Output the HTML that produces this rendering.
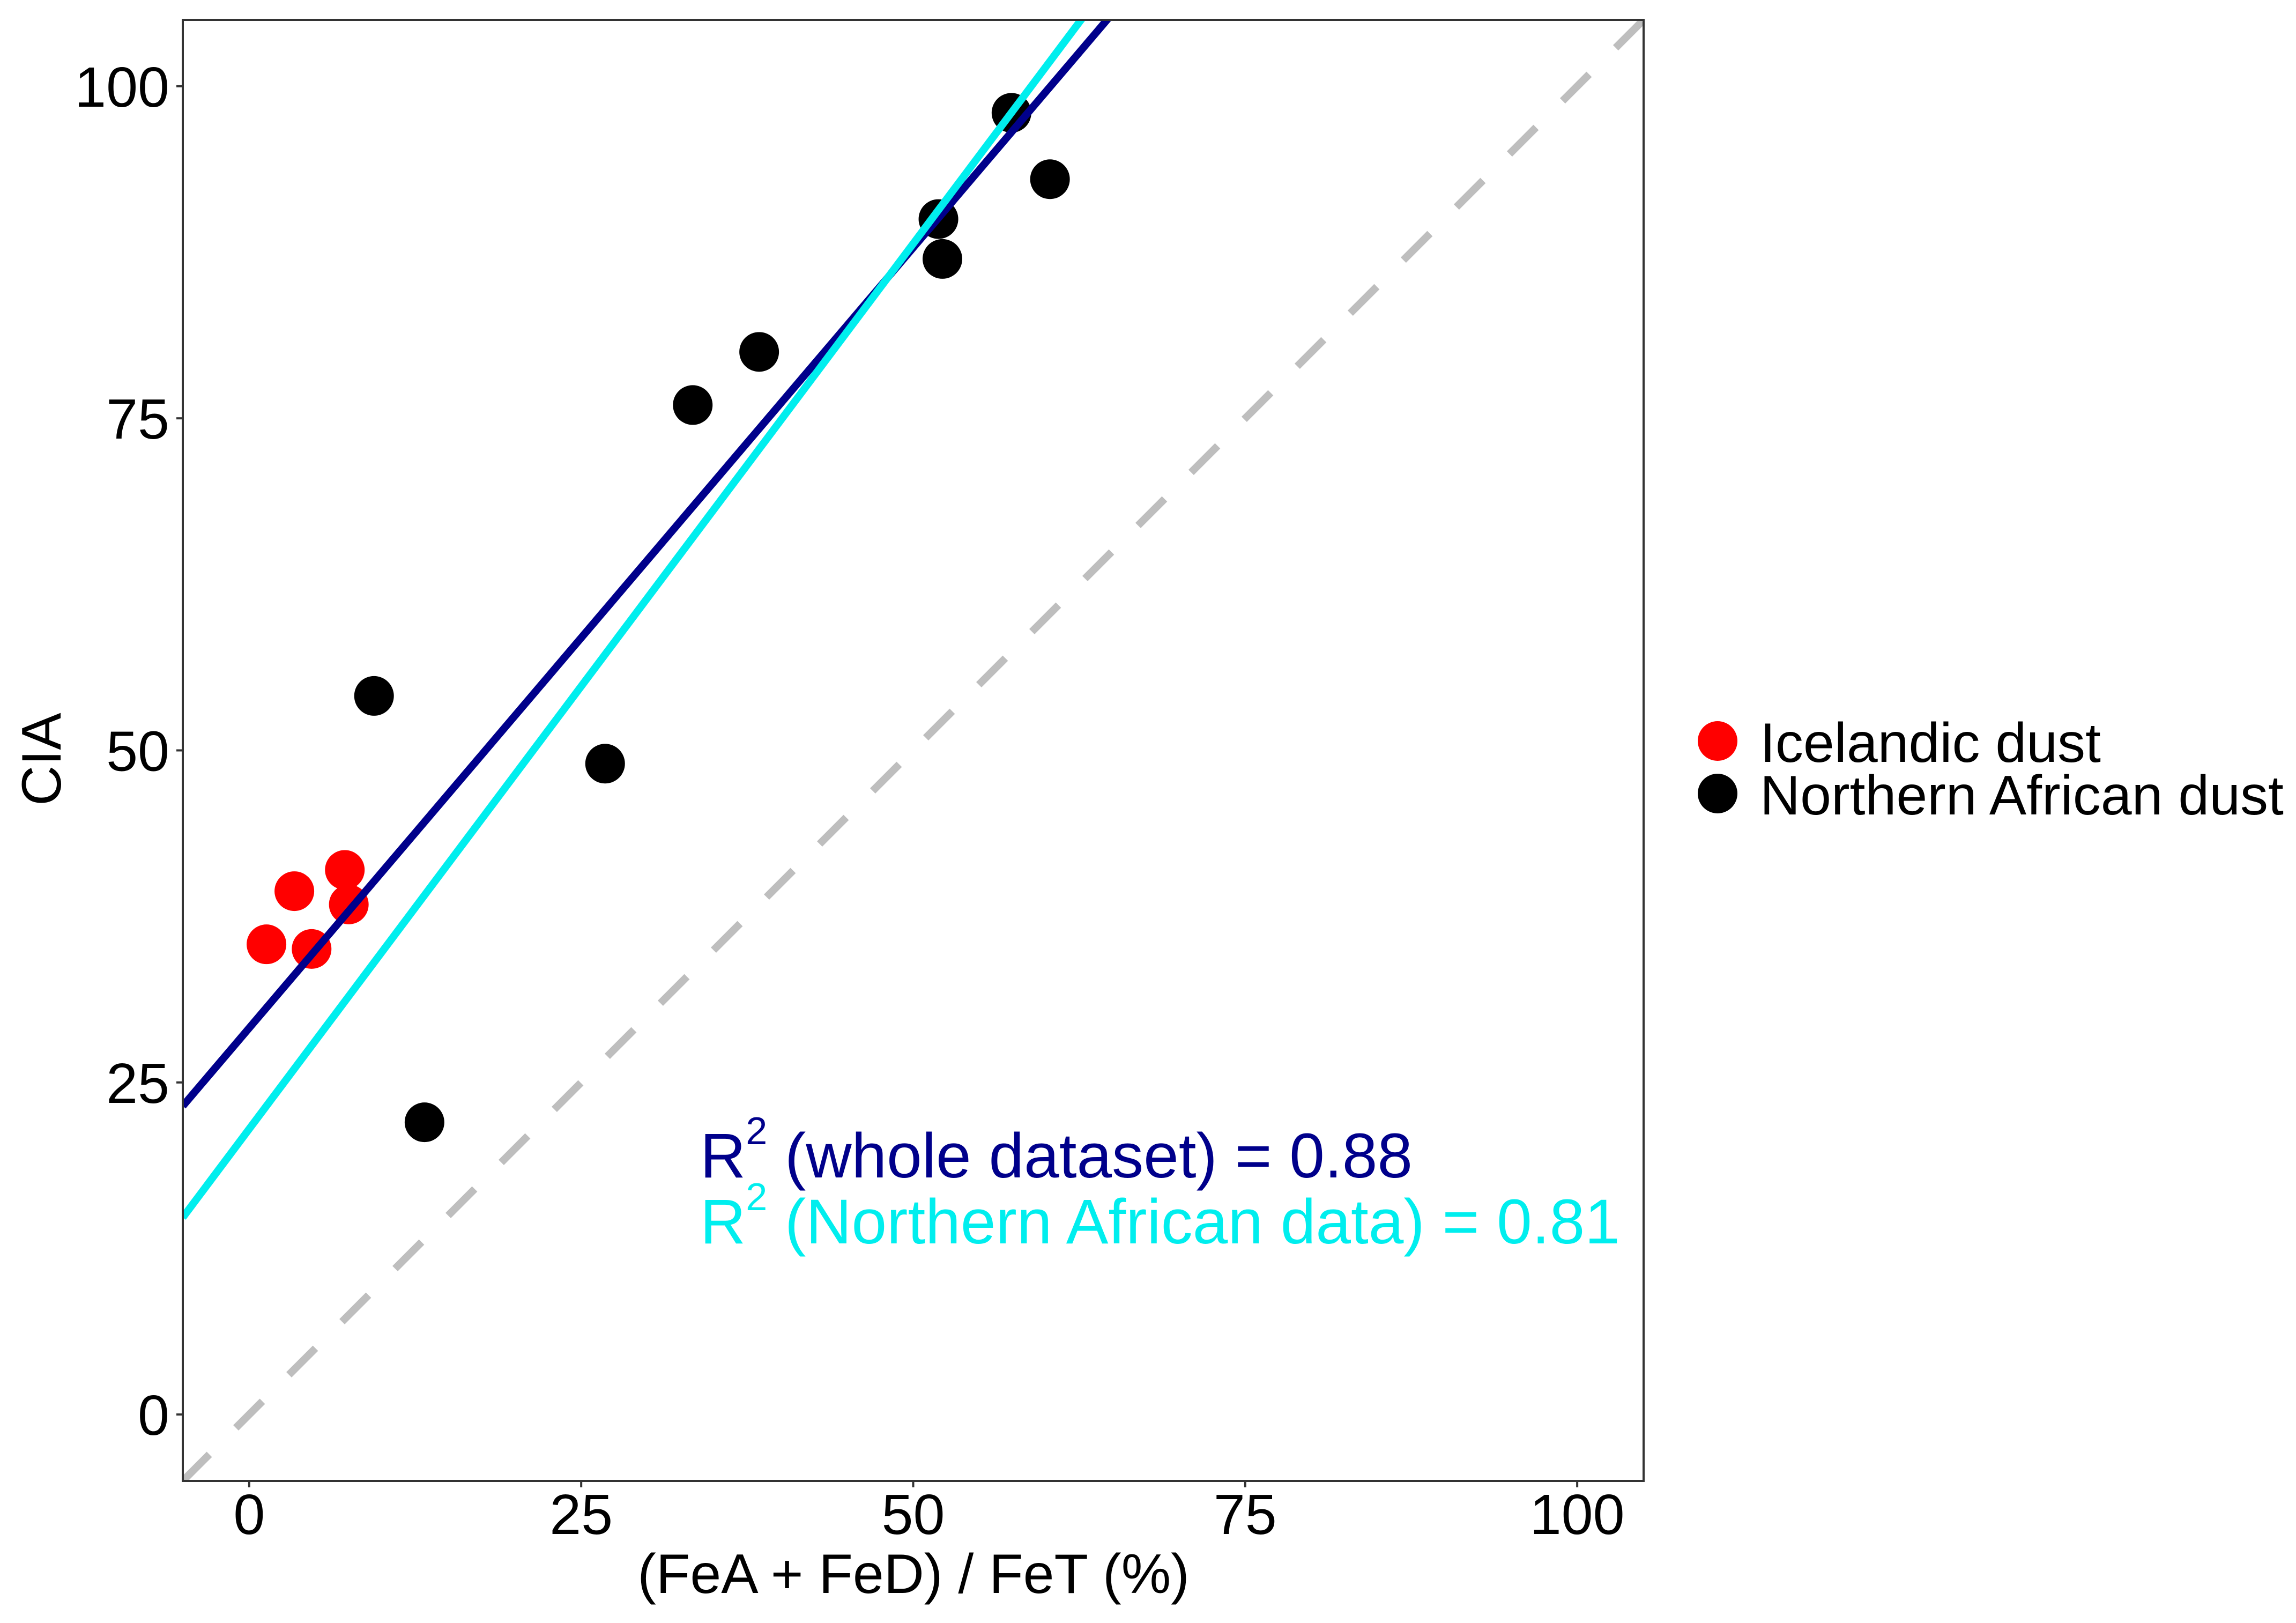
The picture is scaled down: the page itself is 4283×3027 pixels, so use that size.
<!DOCTYPE html>
<html><head><meta charset="utf-8"><style>
html,body{margin:0;padding:0;background:#fff;}
svg{display:block;font-family:"Liberation Sans",Arial,sans-serif;}
</style></head><body>
<svg id="chart" width="4283" height="3027" viewBox="0 0 4283 3027" xmlns="http://www.w3.org/2000/svg">
<rect x="0" y="0" width="4283" height="3027" fill="#fff"/>
<g id="plot"></g>
</svg>
<script>
const icelandicX = [1.3, 3.4, 4.7, 7.2, 7.5];
const icelandicY = [35.4, 39.4, 35.05, 41.0, 38.4];
const africanX = [9.4, 13.2, 26.8, 33.4, 38.4, 51.9, 52.2, 57.4, 60.3];
const africanY = [54.1, 22.0, 49.0, 76.0, 80.0, 90.0, 87.0, 98.0, 93.0];
const wholeFit = [29.1, 1.175];      // intercept, slope
const africanFit = [21.5, 1.333];    // intercept, slope
const xTicks = [0, 25, 50, 75, 100];
const yTicks = [0, 25, 50, 75, 100];

const NS = 'http://www.w3.org/2000/svg';
const L = 341, R = 3066, T = 37, B = 2762;
const dmin = -5, dmax = 105;
function sx(v){ return L + (v - dmin) / (dmax - dmin) * (R - L); }
function sy(v){ return B - (v - dmin) / (dmax - dmin) * (B - T); }
const svg = document.getElementById('chart');
function mk(tag, attrs){ const e = document.createElementNS(NS, tag); for (const k in attrs) e.setAttribute(k, attrs[k]); svg.appendChild(e); return e; }

// clip
const defs = mk('defs', {});
const cp = document.createElementNS(NS, 'clipPath'); cp.setAttribute('id', 'clip');
const cr = document.createElementNS(NS, 'rect');
cr.setAttribute('x', L); cr.setAttribute('y', T); cr.setAttribute('width', R - L); cr.setAttribute('height', B - T);
cp.appendChild(cr); defs.appendChild(cp);

// 1:1 dashed line
let e = mk('line', {x1: sx(dmin), y1: sy(dmin), x2: sx(dmax), y2: sy(dmax), stroke: '#bebebe', 'stroke-width': 14, 'stroke-dasharray': '70 70', 'clip-path': 'url(#clip)'});



// points
for (let i = 0; i < africanX.length; i++) {
  e = mk('circle', {cx: sx(africanX[i]), cy: sy(africanY[i]), r: 37, fill: '#000'});
  
  
}
for (let i = 0; i < icelandicX.length; i++) {
  e = mk('circle', {cx: sx(icelandicX[i]), cy: sy(icelandicY[i]), r: 37, fill: '#ff0000'});
  
  
}

// fit lines
e = mk('line', {x1: sx(dmin), y1: sy(wholeFit[0] + wholeFit[1] * dmin), x2: sx(dmax), y2: sy(wholeFit[0] + wholeFit[1] * dmax), stroke: '#00008b', 'stroke-width': 14, 'clip-path': 'url(#clip)'});


e = mk('line', {x1: sx(dmin), y1: sy(africanFit[0] + africanFit[1] * dmin), x2: sx(dmax), y2: sy(africanFit[0] + africanFit[1] * dmax), stroke: '#00eeee', 'stroke-width': 14, 'clip-path': 'url(#clip)'});



// panel border
e = mk('rect', {x: L, y: T, width: R - L, height: B - T, fill: 'none', stroke: '#333', 'stroke-width': 4});



// ticks
for (const t of xTicks) {
  e = mk('line', {x1: sx(t), y1: B, x2: sx(t), y2: B + 12, stroke: '#333', 'stroke-width': 4});
  
  
  e = mk('text', {x: sx(t), y: 2861, 'font-size': 106, 'text-anchor': 'middle', fill: '#000'});
  e.textContent = t;
  
  
}
for (const t of yTicks) {
  e = mk('line', {x1: L - 12, y1: sy(t), x2: L, y2: sy(t), stroke: '#333', 'stroke-width': 4});
  
  
  e = mk('text', {x: 316, y: sy(t) + 38, 'font-size': 106, 'text-anchor': 'end', fill: '#000'});
  e.textContent = t;
  
  
}
</script>
<svg style="position:absolute;left:0;top:0" width="4283" height="3027" viewBox="0 0 4283 3027" xmlns="http://www.w3.org/2000/svg">
<text x="1704" y="2971" font-size="104" text-anchor="middle" fill="#000">(FeA + FeD) / FeT (%)</text>
<text transform="translate(113,1416) rotate(-90)" x="0" y="0" font-size="104" text-anchor="middle" fill="#000">CIA</text>
<text x="1306" y="2196" font-size="118" fill="#00008b">R<tspan font-size="72" dy="-62">2</tspan><tspan dy="62"> (whole dataset) = 0.88</tspan></text>
<text x="1306" y="2319" font-size="118" fill="#00eeee">R<tspan font-size="72" dy="-62">2</tspan><tspan dy="62"> (Northern African data) = 0.81</tspan></text>
<g>
<circle cx="3204" cy="1382" r="37" fill="#ff0000"/>
<text x="3283" y="1421" font-size="104" fill="#000">Icelandic dust</text>
<circle cx="3204" cy="1480" r="37" fill="#000"/>
<text x="3283" y="1519" font-size="104" fill="#000">Northern African dust</text>
</g>
</svg>
</body></html>
